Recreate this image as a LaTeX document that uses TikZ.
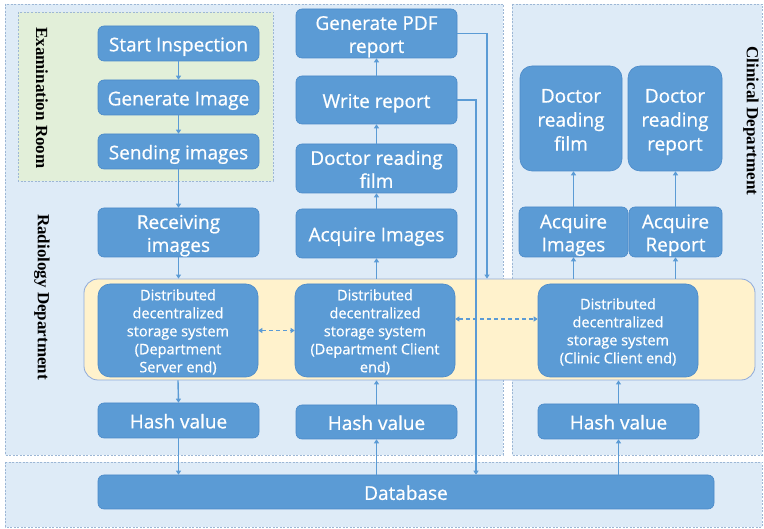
\documentclass[tikz,border=0pt]{standalone}
\usepackage{fontspec}
\setmainfont{Liberation Serif}
\newfontfamily\boxfont[FakeBold=0.7]{Open Sans}
\usetikzlibrary{arrows.meta,calc}
\definecolor{boxblue}{HTML}{5B9BD5}
\definecolor{boxedge}{HTML}{4A89C8}
\definecolor{regblue}{HTML}{DEEBF7}
\definecolor{regedge}{HTML}{9DB7D5}
\definecolor{exgreen}{HTML}{E2EFD9}
\definecolor{bandyel}{HTML}{FFF2CC}
\definecolor{bandedge}{HTML}{8EAADB}
\newcommand\bt[1]{\raisebox{-0.4em}[0pt][0pt]{\begin{tabular}{@{}c@{}}#1\end{tabular}}}
\tikzset{
  region/.style={draw=regedge, fill=regblue, dash pattern=on 2pt off 1.5pt, line width=0.8pt},
  exroom/.style={draw=regedge, fill=exgreen, dash pattern=on 2pt off 1.5pt, line width=0.8pt},
  band/.style={draw=bandedge, fill=bandyel, rounded corners=14pt, line width=0.8pt},
  pbox/.style={draw=boxedge, fill=boxblue, rounded corners=6pt, text=white,
    font=\boxfont\fontsize{19}{23}\selectfont, inner sep=0pt, line width=0.6pt},
  bigbox/.style={pbox, rounded corners=12pt, font=\boxfont\fontsize{19}{24}\selectfont},
  dbox/.style={pbox, rounded corners=12pt, font=\boxfont\fontsize{14.5}{18}\selectfont},
  arr/.style={draw=boxblue, line width=1.4pt, -{Triangle[width=5pt,length=4pt]}},
  darr/.style={draw=boxblue, line width=1.4pt, dash pattern=on 4pt off 3pt, {Triangle[width=5pt,length=4pt]}-{Triangle[width=5pt,length=4pt]}},
  vlabel/.style={font=\bfseries\fontsize{17}{20}\selectfont, rotate=-90, inner sep=0pt}
}
\begin{document}
\begin{tikzpicture}[x=1pt,y=-1pt]
\useasboundingbox (0,0) rectangle (764,529);
% regions
\fill[white] (0,0) rectangle (764,529);
\draw[region] (5,4) rectangle (503,455);
\draw[region] (512,4) rectangle (762,455);
\draw[region] (5,462) rectangle (762,527);
\draw[exroom] (18,12) rectangle (273,181);
\node[band, minimum width=671pt, minimum height=101pt] (band) at (419.5,329.5) {};
% labels
\node[vlabel] (lex) at (42,98) {Examination Room};
\node[vlabel] (lrad) at (42,297) {Radiology Department};
\node[vlabel] (lcli) at (751,121) {Clinical Department};
% left column
\node[pbox, minimum width=161pt, minimum height=35pt] (start) at (178.5,43.5) {\bt{Start Inspection}};
\node[pbox, minimum width=161pt, minimum height=35pt] (gen) at (178.5,97.5) {\bt{Generate Image}};
\node[pbox, minimum width=161pt, minimum height=35pt] (send) at (178.5,151.5) {\bt{Sending images}};
\node[pbox, minimum width=161pt, minimum height=49pt] (recv) at (178.5,232.5) {\bt{Receiving\\images}};
\node[dbox, minimum width=160pt, minimum height=93pt] (dleft) at (178,330.5) {\bt{Distributed\\decentralized\\storage system\\(Department\\Server end)}};
\node[pbox, minimum width=161pt, minimum height=35pt] (hleft) at (178.5,420.5) {\bt{Hash value}};
% middle column
\node[pbox, minimum width=161pt, minimum height=49pt] (pdf) at (376.5,33.5) {\bt{Generate PDF\\report}};
\node[pbox, minimum width=161pt, minimum height=48pt] (write) at (376.5,100) {\bt{Write report}};
\node[pbox, minimum width=161pt, minimum height=49pt] (dfilm) at (376.5,168.5) {\bt{Doctor reading\\film}};
\node[pbox, minimum width=161pt, minimum height=49pt] (acq) at (376.5,233.5) {\bt{Acquire Images}};
\node[dbox, minimum width=160pt, minimum height=93pt] (dmid) at (375,330.5) {\bt{Distributed\\decentralized\\storage system\\(Department Client\\end)}};
\node[pbox, minimum width=161pt, minimum height=34pt] (hmid) at (376.5,422) {\bt{Hash value}};
% right column
\node[bigbox, minimum width=102pt, minimum height=105pt] (cfilm) at (571,118.5) {\bt{Doctor\\reading\\film}};
\node[bigbox, minimum width=94pt, minimum height=105pt] (crep) at (675,118.5) {\bt{Doctor\\reading\\report}};
\node[pbox, minimum width=109pt, minimum height=50pt] (cacq) at (573.5,232) {\bt{Acquire\\Images}};
\node[pbox, minimum width=93pt, minimum height=50pt] (cacr) at (675.5,232) {\bt{Acquire\\Report}};
\node[dbox, minimum width=160pt, minimum height=93pt] (dright) at (618,330.5) {\bt{Distributed\\decentralized\\storage system\\(Clinic Client end)}};
\node[pbox, minimum width=161pt, minimum height=35pt] (hright) at (618.5,421.5) {\bt{Hash value}};
% database
\node[pbox, minimum width=616pt, minimum height=34pt] (db) at (406,492) {\bt{Database}};
% coordinates for bends
\coordinate (wrx) at (476,0);
\coordinate (pdx) at (487,0);
% arrows left
\draw[arr] (start) -- (gen);
\draw[arr] (gen) -- (send);
\draw[arr] (send) -- (recv);
\draw[arr] (recv.south) -- (recv.south |- band.north);
\draw[arr] (dleft.south |- band.south) -- (hleft.north);
\draw[arr] (hleft) -- (db.north -| hleft.south);
% arrows middle
\draw[arr] (db.north -| hmid.south) -- (hmid.south);
\draw[arr] (hmid.north) -- (hmid.north |- band.south);
\draw[arr] (acq.south |- band.north) -- (acq.south);
\draw[arr] (acq) -- (dfilm);
\draw[arr] (dfilm) -- (write);
\draw[arr] (write) -- (pdf);
\draw[arr] (write.east) -| (db.north -| wrx);
\draw[arr] (pdf.east) -| (band.north -| pdx);
% arrows right
\draw[arr] (db.north -| hright.south) -- (hright.south);
\draw[arr] (hright.north) -- (hright.north |- band.south);
\draw[arr] (cacq.south |- band.north) -- (cacq.south);
\draw[arr] (cacr.south |- band.north) -- (cacr.south);
\draw[arr] (cacq) -- (cacq.north |- cfilm.south);
\draw[arr] (cacr) -- (cacr.north |- crep.south);
% dashed links
\draw[darr] (dleft.east) -- (dmid.west);
\draw[darr] ([yshift=11.5pt]dmid.east) -- ([yshift=11.5pt]dright.west);
\end{tikzpicture}
\end{document}
